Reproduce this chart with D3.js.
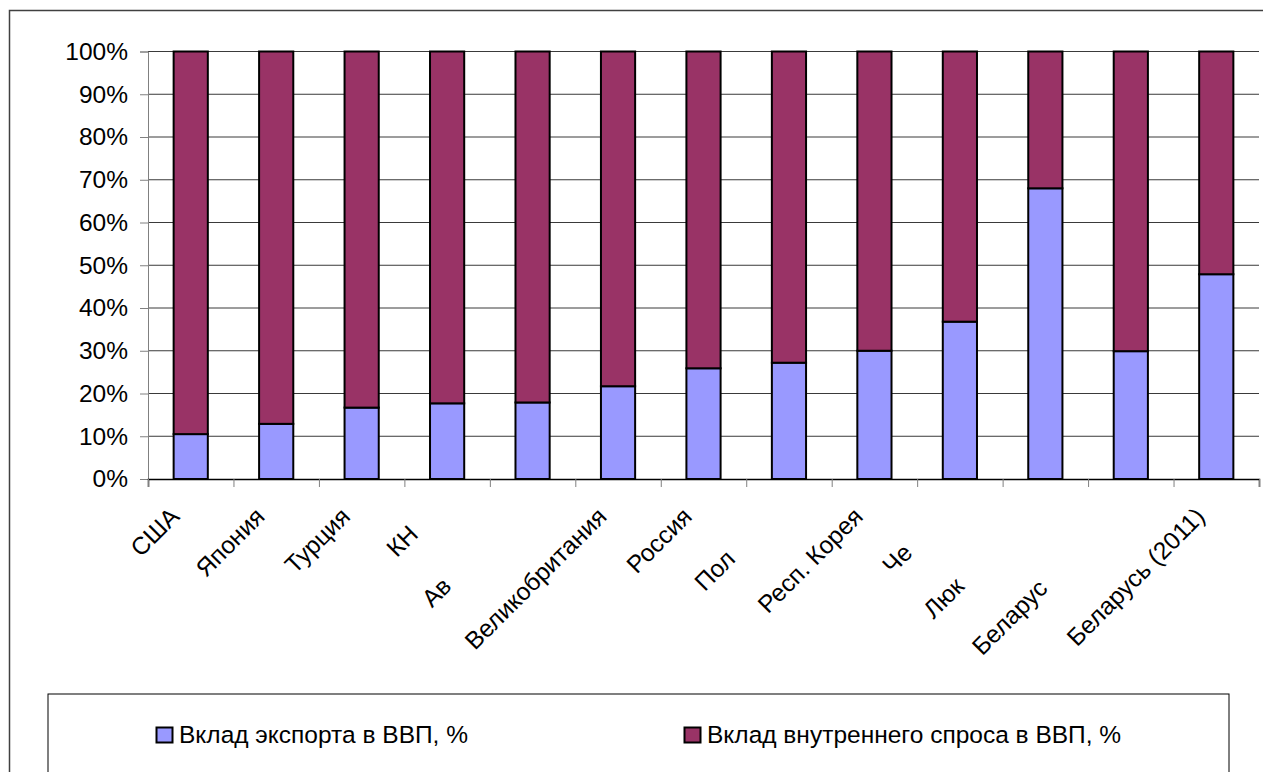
<!DOCTYPE html>
<html>
<head>
<meta charset="utf-8">
<script src="https://cdn.jsdelivr.net/npm/d3@7"></script>
<style>
  html, body { margin: 0; padding: 0; background: #fff; }
  svg { display: block; font-family: "Liberation Sans", Arial, sans-serif; }
</style>
</head>
<body>
<svg id="chart" width="1263" height="772"></svg>
<script>
// ---- data ----
const categories = ["США", "Япония", "Турция", "КН", "Ав", "Великобритания", "Россия",
  "Пол", "Респ. Корея", "Че", "Люк", "Беларус", "Беларусь (2011)"];
const exportShare = [10.5, 12.9, 16.7, 17.7, 17.9, 21.7, 25.9, 27.2, 30.0, 36.8, 68.0, 29.9, 47.9];
const domesticShare = exportShare.map(v => 100 - v);
const seriesNames = ["Вклад экспорта в ВВП, %", "Вклад внутреннего спроса в ВВП, %"];
const yTicks = [0, 10, 20, 30, 40, 50, 60, 70, 80, 90, 100];

// ---- layout (not data) ----
const W = 1263, H = 772;
const plot = { left: 148, right: 1259, top: 51.5, bottom: 479 };
const colors = ["#9999FF", "#993366"];
const fontSize = 24.5;
// clipped labels: distance (px) of the visible start from the anchor point
const clippedOffset = { "КН": 57, "Ав": 128, "Пол": 105, "Че": 81, "Люк": 144, "Беларус": 196 };

const svg = d3.select("#chart");

// outer border
svg.append("rect").attr("x", 9.5).attr("y", 10.5).attr("width", W + 20).attr("height", H + 20)
  .attr("fill", "none").attr("stroke", "#404040").attr("stroke-width", 1.5);

const x = d3.scaleBand().domain(categories).range([plot.left, plot.right])
  .paddingInner(0.6).paddingOuter(0.3);
const xIdx = d3.scaleLinear().domain([0, categories.length]).range([plot.left, plot.right]);
const y = d3.scaleLinear().domain([0, 100]).range([plot.bottom, plot.top]);

// gridlines
svg.append("g").selectAll("line").data(yTicks.filter(t => t > 0)).join("line")
  .attr("x1", plot.left).attr("x2", plot.right)
  .attr("y1", d => y(d)).attr("y2", d => y(d))
  .attr("stroke", "#3a3a3a").attr("stroke-width", 1);

// y axis
const yAxis = d3.axisLeft(y).tickValues(yTicks).tickSize(8).tickPadding(12)
  .tickFormat(d => d + "%");
const gy = svg.append("g").attr("transform", `translate(${plot.left},0)`).call(yAxis);
gy.select(".domain").attr("stroke", "#808080");
gy.selectAll(".tick line").attr("stroke", "#808080");
gy.selectAll(".tick text").attr("font-size", fontSize).attr("fill", "#000")
  .attr("font-family", "Liberation Sans, Arial, sans-serif");

// x axis (ticks at category boundaries)
const xAxis = d3.axisBottom(xIdx).tickValues(d3.range(categories.length + 1))
  .tickSize(8).tickFormat("");
const gx = svg.append("g").attr("transform", `translate(0,${plot.bottom})`).call(xAxis);
gx.select(".domain").attr("stroke", "#000").attr("stroke-width", 1.5);
gx.selectAll(".tick line").attr("stroke", "#808080");

// stacked bars
const stackData = categories.map((c, i) => ({ cat: c, exp: exportShare[i], dom: domesticShare[i] }));
const stacked = d3.stack().keys(["exp", "dom"])(stackData);
svg.append("g").selectAll("g").data(stacked).join("g")
  .attr("fill", (d, i) => colors[i])
  .selectAll("rect").data(d => d).join("rect")
  .attr("x", d => x(d.data.cat))
  .attr("width", x.bandwidth())
  .attr("y", d => y(d[1]))
  .attr("height", d => y(d[0]) - y(d[1]))
  .attr("stroke", "#000").attr("stroke-width", 2);

// category labels rotated -45°
svg.append("g").selectAll("text").data(categories).join("text")
  .attr("transform", d => `translate(${x(d) + x.bandwidth() / 2 - 10},518) rotate(-45)`)
  .attr("font-size", fontSize).attr("fill", "#000")
  .attr("text-anchor", d => clippedOffset[d] ? "start" : "end")
  .attr("x", d => clippedOffset[d] ? -clippedOffset[d] : 0)
  .text(d => d);

// legend
svg.append("rect").attr("x", 48).attr("y", 694).attr("width", 1181).attr("height", 120)
  .attr("fill", "#fff").attr("stroke", "#000").attr("stroke-width", 1);
const legendX = [156, 684];
const leg = svg.append("g").selectAll("g").data(seriesNames).join("g")
  .attr("transform", (d, i) => `translate(${legendX[i]},727)`);
leg.append("rect").attr("x", 0.5).attr("y", 0.5).attr("width", 16).attr("height", 15)
  .attr("fill", (d, i) => colors[i]).attr("stroke", "#000").attr("stroke-width", 2);
leg.append("text").attr("x", 23).attr("y", 16).attr("font-size", fontSize).attr("fill", "#000")
  .text(d => d);
</script>
</body>
</html>
